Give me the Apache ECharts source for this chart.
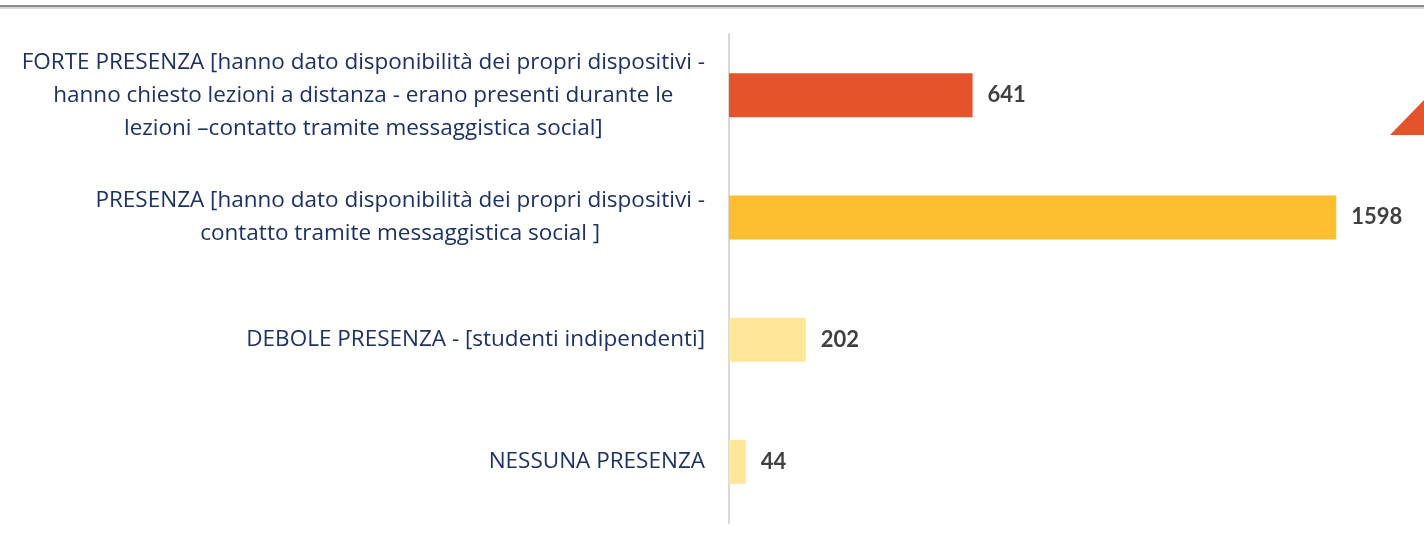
<!DOCTYPE html>
<html>
<head>
<meta charset="utf-8">
<script src="https://cdn.jsdelivr.net/npm/echarts@6/dist/echarts.min.js"></script>
<style>
  html, body { margin: 0; padding: 0; background: #fff; }
  #chart { width: 1424px; height: 542px; }
</style>
</head>
<body>
<div id="chart"></div>
<script>
// categories, top to bottom
const categories = [
  'FORTE PRESENZA [hanno dato disponibilità dei propri dispositivi -\nhanno chiesto lezioni a distanza - erano presenti durante le\nlezioni –contatto tramite messaggistica social]',
  'PRESENZA [hanno dato disponibilità dei propri dispositivi -\ncontatto tramite messaggistica social ]',
  'DEBOLE PRESENZA - [studenti indipendenti]',
  'NESSUNA PRESENZA'
]
const values = [641, 1598, 202, 44]
const barColors = ['#E5532D', '#FDBF2F', '#FFE699', '#FFE699']

const chart = echarts.init(document.getElementById('chart'))

const option = {
  animation: false,
  backgroundColor: '#fff',
  grid: { left: 729, right: 11, top: 34, bottom: 19 },
  xAxis: {
    type: 'value',
    min: 0,
    max: 1800,
    show: false
  },
  yAxis: {
    type: 'category',
    inverse: true,
    data: categories,
    axisLine: { show: true, lineStyle: { color: '#d9d9d9', width: 2 } },
    axisTick: { show: false },
    axisLabel: {
      margin: 24,
      align: 'right',
      // center each line inside the label block, block stays right aligned
      formatter: (v) => v.split('\n').map(l => '{c|' + l + '}').join('\n'),
      rich: {
        c: {
          align: 'center',
          color: '#1C3164',
          fontFamily: 'Open Sans',
          fontSize: 22.5,
          lineHeight: 33
        }
      }
    }
  },
  series: [{
    type: 'bar',
    barWidth: 44,
    data: values.map((v, i) => ({ value: v, itemStyle: { color: barColors[i] } })),
    label: {
      show: true,
      position: 'right',
      distance: 15,
      color: '#404040',
      fontFamily: 'Lato',
      fontWeight: 'bold',
      fontSize: 22
    }
  }],
  graphic: [
    {
      type: 'rect',
      shape: { x: 0, y: 5, width: 1424, height: 2 },
      style: { fill: '#8a8a8a' }
    },
    {
      type: 'rect',
      shape: { x: 0, y: 7, width: 1424, height: 2 },
      style: { fill: '#d6d6d6' }
    },
    {
      type: 'polygon',
      shape: { points: [[1390, 135], [1424, 100], [1424, 135]] },
      style: { fill: '#E5532D' }
    }
  ]
}

chart.setOption(option)
</script>
</body>
</html>
